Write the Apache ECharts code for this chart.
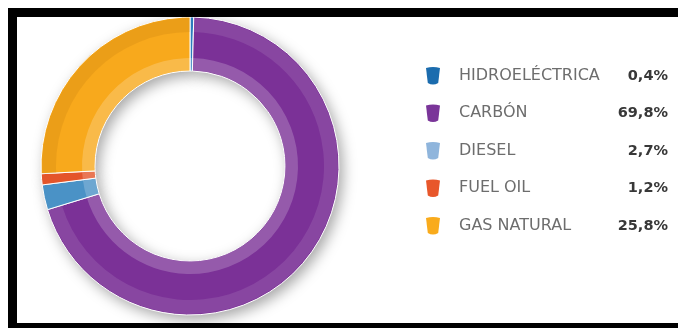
<!DOCTYPE html>
<html>
<head>
<meta charset="utf-8">
<script src="https://cdn.jsdelivr.net/npm/echarts@6/dist/echarts.min.js"></script>
<style>
  html, body { margin: 0; padding: 0; background: #fff; }
  #chart { width: 678px; height: 328px; }
</style>
</head>
<body>
<div id="chart"></div>
<script>
// Generation mix, share of total (%)
const categories = ['HIDROELÉCTRICA', 'CARBÓN', 'DIESEL', 'FUEL OIL', 'GAS NATURAL'];
const shares = [0.4, 69.8, 2.7, 1.2, 25.8];

// Ring and legend swatch colours, one per category
const ringColors = ['#2c7dbd', '#7b3197', '#4a92c6', '#e4552a', '#f8a91c'];
const legendColors = ['#1b6cae', '#7a3599', '#8fb5dc', '#e8572b', '#f9ab1c'];
// Tint laid over the outer rim of each slice (light on the right, darker on the left)
const rimTints = ['rgba(0,0,0,0)', 'rgba(255,255,255,0.10)', 'rgba(0,0,0,0)', 'rgba(0,0,0,0)', 'rgba(150,80,0,0.12)'];

const CENTER = [190, 166];
const R_IN = 95;
const R_OUT = 149;

const fmtShare = v => v.toFixed(1).replace('.', ',') + '%';

const pieCommon = {
  type: 'pie',
  center: CENTER,
  startAngle: 90,
  clockwise: true,
  silent: true,
  animation: false,
  avoidLabelOverlap: false,
  label: { show: false },
  labelLine: { show: false },
  emphasis: { disabled: true }
};

const slices = (colorFor, extra) => categories.map((name, i) => ({
  name,
  value: shares[i],
  itemStyle: Object.assign({ color: colorFor(i) }, extra || {})
}));

const chart = echarts.init(document.getElementById('chart'), null, { renderer: 'canvas' });

chart.setOption({
  backgroundColor: '#ffffff',
  graphic: [
    // black frame round the panel
    { type: 'rect', shape: { x: 8, y: 8, width: 670, height: 9 }, style: { fill: '#000' }, silent: true, z: 100 },
    { type: 'rect', shape: { x: 8, y: 8, width: 9, height: 320 }, style: { fill: '#000' }, silent: true, z: 100 },
    { type: 'rect', shape: { x: 8, y: 323, width: 670, height: 5 }, style: { fill: '#000' }, silent: true, z: 100 }
  ],
  legend: {
    orient: 'vertical',
    left: 421,
    top: 62,
    itemWidth: 14,
    itemHeight: 18,
    itemGap: 20,
    selectedMode: false,
    icon: 'path://M0,1 Q7,-1 14,1 L12.2,16 Q7,19 1.8,16 Z',
    data: categories.map((name, i) => ({ name, itemStyle: { color: legendColors[i], borderWidth: 0 } })),
    formatter: name => {
      const i = categories.indexOf(name);
      return '{g| }{n|' + name + '}{v|' + fmtShare(shares[i]) + '}';
    },
    textStyle: {
      rich: {
        g: { width: 14, fontSize: 12, lineHeight: 18 },
        n: { width: 150, fontFamily: 'DejaVu Sans', fontSize: 16, color: '#6d6d6d', lineHeight: 18 },
        v: { width: 59, align: 'right', fontFamily: 'DejaVu Sans', fontWeight: 'bold', fontSize: 14.5, color: '#383838', lineHeight: 18 }
      }
    }
  },
  series: [
    // soft drop shadow under the ring
    Object.assign({}, pieCommon, {
      radius: [R_IN, R_OUT],
      z: 1,
      data: slices(() => '#c8c8c8', {
        shadowBlur: 14, shadowOffsetX: 4, shadowOffsetY: 5, shadowColor: 'rgba(0,0,0,0.35)'
      })
    }),
    // main ring
    Object.assign({}, pieCommon, {
      radius: [R_IN, R_OUT],
      z: 2,
      data: slices(i => ringColors[i], { borderColor: '#ffffff', borderWidth: 1 })
    }),
    // lighter band along the inner edge
    Object.assign({}, pieCommon, {
      radius: [R_IN + 0.5, 108],
      z: 3,
      data: slices(() => 'rgba(255,255,255,0.2)', { borderWidth: 0 })
    }),
    // rim tint along the outer edge
    Object.assign({}, pieCommon, {
      radius: [134, R_OUT - 1],
      z: 3,
      data: slices(i => rimTints[i], { borderWidth: 0 })
    })
  ]
});
</script>
</body>
</html>
